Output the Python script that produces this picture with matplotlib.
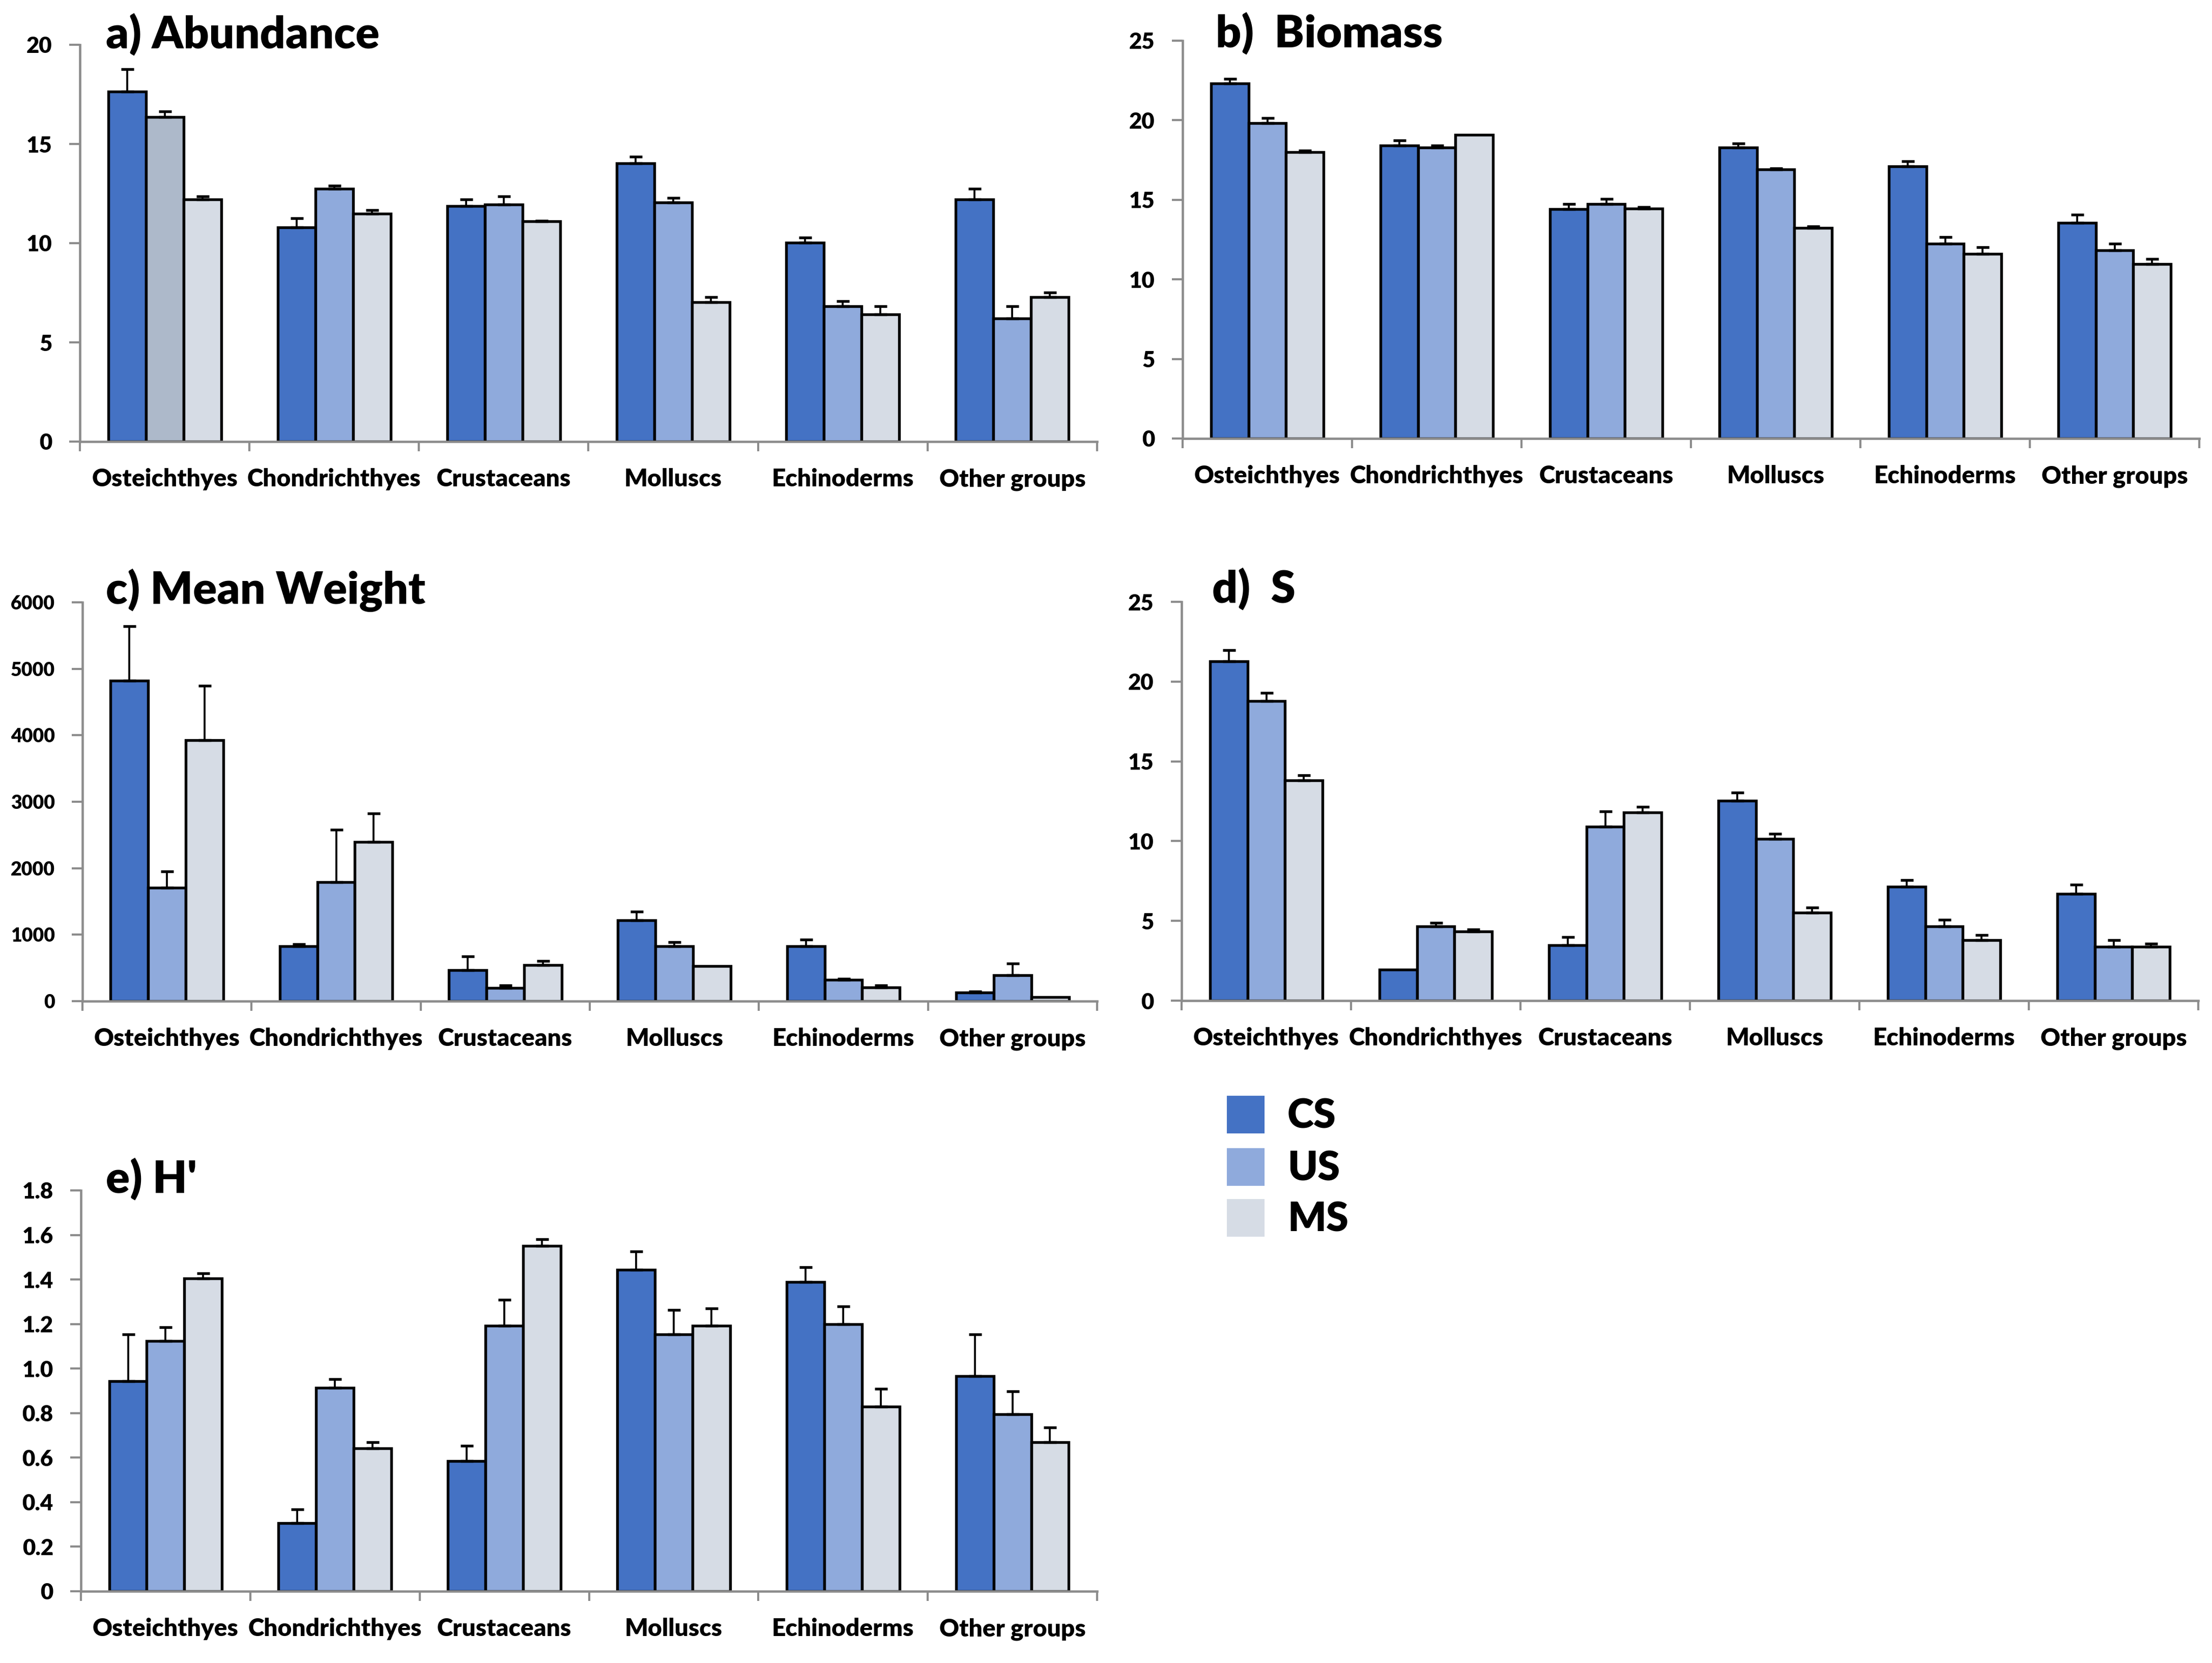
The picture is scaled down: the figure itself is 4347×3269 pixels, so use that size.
#!/usr/bin/env python3
"""
Painel com 5 gráficos de barras (CS / US / MS) por grupo taxonômico:
abundância, biomassa, peso médio, S e H'.
"""

import matplotlib
matplotlib.use("Agg")
import matplotlib.pyplot as plt
from matplotlib.patches import Rectangle
import numpy as np

W, H = 4347, 3269
DPI = 300

CATEGORIAS = ["Osteichthyes", "Chondrichthyes", "Crustaceans",
              "Molluscs", "Echinoderms", "Other groups"]
SERIES = ["CS", "US", "MS"]

# a) Abundance  (médias e erro padrão, só a barra para cima)
ABUND_MEAN = [[17.63, 10.80, 11.87, 14.02, 10.02, 12.21],
              [16.35, 12.74, 11.95, 12.05, 6.82, 6.20],
              [12.21, 11.50, 11.09, 7.02, 6.41, 7.28]]
ABUND_ERR = [[1.14, 0.46, 0.34, 0.33, 0.25, 0.53],
             [0.28, 0.16, 0.42, 0.23, 0.25, 0.62],
             [0.16, 0.17, 0.05, 0.26, 0.41, 0.23]]

# b) Biomass
BIOM_MEAN = [[22.30, 18.40, 14.41, 18.30, 17.11, 13.55],
             [19.82, 18.30, 14.73, 16.91, 12.25, 11.82],
             [17.99, 19.10, 14.45, 13.22, 11.62, 10.96]]
BIOM_ERR = [[0.30, 0.35, 0.34, 0.25, 0.31, 0.53],
            [0.32, 0.10, 0.33, 0.06, 0.41, 0.41],
            [0.10, 0.00, 0.10, 0.10, 0.41, 0.31]]

# c) Mean Weight
PESO_MEAN = [[4822, 825, 466, 1218, 825, 133],
             [1709, 1792, 196, 825, 319, 393],
             [3928, 2396, 540, 530, 206, 64]]
PESO_ERR = [[815, 34, 207, 132, 98, 14],
            [245, 786, 40, 59, 15, 172],
            [820, 427, 64, 0, 30, 0]]

# d) S
S_MEAN = [[21.26, 1.94, 3.48, 12.53, 7.15, 6.70],
          [18.77, 4.66, 10.90, 10.14, 4.66, 3.37],
          [13.80, 4.35, 11.79, 5.52, 3.80, 3.37]]
S_ERR = [[0.71, 0.00, 0.51, 0.51, 0.41, 0.56],
         [0.51, 0.21, 0.96, 0.31, 0.41, 0.43],
         [0.33, 0.11, 0.37, 0.33, 0.31, 0.21]]

# e) H'
H_MEAN = [[0.944, 0.305, 0.584, 1.443, 1.388, 0.967],
          [1.124, 0.913, 1.193, 1.154, 1.200, 0.795],
          [1.404, 0.642, 1.550, 1.193, 0.830, 0.670]]
H_ERR = [[0.210, 0.063, 0.070, 0.083, 0.068, 0.187],
         [0.061, 0.039, 0.117, 0.109, 0.079, 0.102],
         [0.023, 0.028, 0.031, 0.078, 0.078, 0.066]]

CORES = ["#4472C4", "#8FAADC", "#D6DCE5"]
CINZA = "#8C8C8C"
PESO_FONTE = "heavy"

plt.rcParams["font.family"] = ["Lato", "DejaVu Sans"]
plt.rcParams["font.weight"] = PESO_FONTE


def eixo(fig, l, r, b, t):
    """Cria eixo a partir de coordenadas em pixels da imagem (esq, dir, base, topo)."""
    return fig.add_axes([l / W, 1 - b / H, (r - l) / W, (b - t) / H])


def painel(ax, medias, erros, ymax, passo, rotulo_fmt, tick_fs=10.5, destaque=None):
    x = np.arange(len(CATEGORIAS))
    larg = 0.222
    for i, (m, e) in enumerate(zip(medias, erros)):
        pos = x + (i - 1) * larg
        cores = [CORES[i]] * len(m)
        if destaque and destaque[0] == i:
            cores[destaque[1]] = destaque[2]
        ax.bar(pos, m, width=larg, color=cores, edgecolor="black",
               linewidth=1.3, zorder=2)
        e = np.array(e, dtype=float)
        ok = e > 0
        ax.errorbar(pos[ok], np.array(m)[ok], yerr=[np.zeros(ok.sum()), e[ok]],
                    fmt="none", ecolor="black", elinewidth=0.9, capsize=3,
                    capthick=1.3, zorder=3)

    ax.set_xlim(-0.5, len(CATEGORIAS) - 0.5)
    ax.set_ylim(0, ymax)
    ticks = np.arange(0, ymax + passo / 2, passo)
    ax.set_yticks(ticks)
    ax.set_yticklabels([rotulo_fmt(v) for v in ticks], fontsize=tick_fs,
                       fontweight=PESO_FONTE)
    ax.set_xticks(x)
    ax.set_xticklabels(CATEGORIAS, fontsize=11.5, fontweight=PESO_FONTE)
    ax.set_xticks(np.arange(-0.5, len(CATEGORIAS)), minor=True)
    ax.tick_params(axis="x", which="major", length=0, pad=12.5)
    ax.tick_params(axis="x", which="minor", length=4.5, width=1, color=CINZA)
    ax.tick_params(axis="y", length=5, width=1, color=CINZA, pad=8)

    for lado in ["top", "right"]:
        ax.spines[lado].set_visible(False)
    for lado in ["left", "bottom"]:
        ax.spines[lado].set_color(CINZA)
        ax.spines[lado].set_linewidth(1.1)
    ax.spines["bottom"].set_zorder(4)


def inteiro(v):
    return f"{v:.0f}"


def decimal(v):
    return "0" if v == 0 else f"{v:.1f}"


def main():
    fig = plt.figure(figsize=(W / DPI, H / DPI), dpi=DPI)

    ax_a = eixo(fig, 157, 2156, 868, 88)
    painel(ax_a, ABUND_MEAN, ABUND_ERR, 20, 5, inteiro,
           destaque=(1, 0, "#ADB9CA"))
    ax_b = eixo(fig, 2324, 4322, 862, 80)
    painel(ax_b, BIOM_MEAN, BIOM_ERR, 25, 5, inteiro)
    ax_c = eixo(fig, 162, 2156, 1968, 1184)
    painel(ax_c, PESO_MEAN, PESO_ERR, 6000, 1000, inteiro, tick_fs=9)
    ax_d = eixo(fig, 2322, 4320, 1967, 1183)
    painel(ax_d, S_MEAN, S_ERR, 25, 5, inteiro)
    ax_e = eixo(fig, 159, 2156, 3128, 2340)
    painel(ax_e, H_MEAN, H_ERR, 1.8, 0.2, decimal)

    # títulos dos painéis
    titulos = [("a) Abundance", 208, 68), ("b)  Biomass", 2389, 66),
               ("c) Mean Weight", 208, 1160), ("d)  S", 2382, 1158),
               ("e) H'", 208, 2318)]
    for txt, px, py in titulos:
        fig.text(px / W, 1 - py / H, txt, fontsize=21, fontweight=PESO_FONTE,
                 ha="left", va="center")

    # legenda manual
    topos = [2154, 2257, 2357]
    for nome, cor, y0 in zip(SERIES, CORES, topos):
        fig.add_artist(Rectangle((2411 / W, 1 - (y0 + 74) / H), 74 / W, 74 / H,
                                 transform=fig.transFigure, facecolor=cor,
                                 edgecolor="none"))
        fig.text(2530 / W, 1 - (y0 + 40) / H, nome, fontsize=19,
                 fontweight=PESO_FONTE, ha="left", va="center")

    fig.savefig("out.png", dpi=DPI)
    plt.close(fig)


if __name__ == "__main__":
    main()
